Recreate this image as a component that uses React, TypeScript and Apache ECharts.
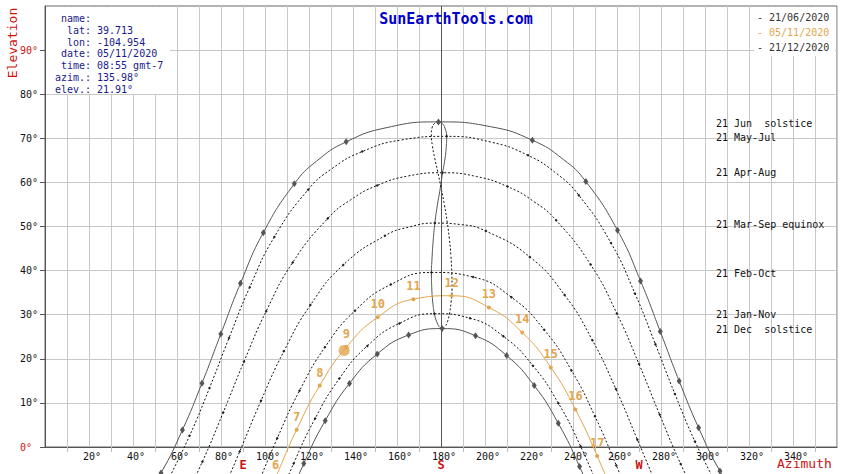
import { useEffect, useRef } from 'react';
import * as echarts from 'echarts';

const FONT = '"DejaVu Sans Mono", "Liberation Mono", monospace';
const RED = '#cc1111';
const ORANGE = '#e2a64e';
const GREY = '#555555';
const BLUE_TXT = '#1a1a8c';

// axis tick labels
const xTickLabels = [20, 40, 60, 80, 100, 120, 140, 160, 180, 200, 220, 240, 260, 280, 300, 320, 340];
const yTickLabels = [0, 10, 20, 30, 40, 50, 60, 70, 80, 90];

// sun paths [azimuth, elevation] at clock times (gmt-7); markers on full hours
const junHours = [3, 4, 5, 6, 7, 8, 9, 10, 10.5, 11, 11.5, 12, 12.5, 13, 13.5, 14, 15, 16, 17, 18, 19, 20, 21];
const junSolstice = [
  [41.7, -14.37], [52.73, -5.88], [62.46, 3.86], [71.35, 14.47], [79.92, 25.63], [88.85, 37.11],
  [99.23, 48.61], [113.33, 59.67], [123.34, 64.78], [136.9, 69.19], [155.5, 72.44], [178.84, 73.72],
  [202.49, 72.64], [221.53, 69.56], [235.57, 65.22], [245.83, 60.2],
  [260.22, 49.14], [270.7, 37.66], [279.67, 26.17], [288.24, 14.99], [297.1, 4.35], [306.78, -5.45],
  [317.73, -13.99],
];
const mayHours = [4, 5, 6, 7, 8, 9, 10, 10.5, 11, 11.5, 12, 12.5, 13, 13.5, 14, 15, 16, 17, 18, 19, 20];
const mayJul = [
  [55.85, -7.52], [65.71, 2.54], [74.78, 13.4], [83.65, 24.72], [93.07, 36.24], [104.25, 47.63],
  [119.6, 58.35], [130.27, 63.07], [144.19, 67.0], [162.0, 69.62], [182.58, 70.44], [202.71, 69.14],
  [219.56, 66.13], [232.61, 61.97], [242.65, 57.09], [257.27, 46.26],
  [268.15, 34.83], [277.45, 23.32], [286.31, 12.03], [295.44, 1.26], [305.44, -8.68],
];
const aprHours = [4, 5, 6, 7, 8, 9, 10, 10.5, 11, 11.5, 12, 12.5, 13, 13.5, 14, 15, 16, 17, 18, 19, 20];
const aprAug = [
  [61.18, -13.92], [71.51, -3.36], [81.01, 7.83], [90.42, 19.33], [100.55, 30.8], [112.59, 41.85],
  [128.49, 51.81], [138.77, 56.0], [150.97, 59.31], [165.22, 61.47], [180.72, 62.19], [196.16, 61.33],
  [210.22, 59.05], [222.26, 55.64], [232.37, 51.39], [248.02, 41.36],
  [259.94, 30.28], [270.02, 18.8], [279.42, 7.31], [288.96, -3.86], [299.33, -14.39],
];
const marHours = [5, 6, 7, 8, 9, 10, 11, 11.5, 12, 12.5, 13, 14, 15, 16, 17, 18, 19];
const marSep = [
  [78.73, -12.49], [88.5, -1.03], [98.17, 10.47], [108.56, 21.69], [120.62, 32.18], [135.57, 41.28],
  [154.53, 47.91], [165.55, 49.89], [177.22, 50.77], [189.04, 50.44], [200.42, 48.96], [220.37, 43.1],
  [236.17, 34.47], [248.81, 24.23], [259.49, 13.14], [269.26, 1.67], [278.93, -9.82],
];
const febHours = [6, 7, 8, 9, 10, 11, 12, 13, 14, 15, 16, 17, 18, 19];
const febOct = [
  [96.07, -9.35], [105.55, 1.97], [115.69, 12.76], [127.23, 22.6], [140.9, 30.9], [157.19, 36.85],
  [175.65, 39.58], [194.63, 38.54], [212.04, 33.95], [226.87, 26.6], [239.3, 17.37], [249.98, 6.96],
  [259.68, -4.17], [269.09, -15.64],
];
const janHours = [6, 7, 8, 9, 10, 11, 12, 13, 14, 15, 16, 17, 18];
const janNov = [
  [104.01, -14.67], [113.03, -3.74], [122.78, 6.45], [133.79, 15.52], [146.5, 22.92], [161.07, 28.03],
  [177.0, 30.23], [193.2, 29.2], [208.35, 25.09], [221.77, 18.45], [233.36, 9.93], [243.49, 0.11],
  [252.72, -10.59],
];
const decHours = [6, 7, 8, 9, 10, 11, 12, 13, 14, 15, 16, 17, 18];
const decSolstice = [
  [108.73, -14.37], [117.63, -3.76], [127.37, 5.97], [138.39, 14.42], [151.04, 21.11], [165.29, 25.41],
  [180.5, 26.85], [195.69, 25.21], [209.83, 20.73], [222.38, 13.92], [233.32, 5.36], [242.99, -4.44],
  [251.84, -15.09],
];
const nov5Hours = [5, 6, 7, 8, 9, 10, 11, 12, 13, 14, 15, 16, 17, 18];
const nov5Labeled = [6, 7, 8, 9, 10, 11, 12, 13, 14, 15, 16, 17];
const nov5Path = [
  [95.7, -18.29], [104.86, -6.95], [114.38, 3.91], [124.88, 13.94], [137.02, 22.66], [151.22, 29.43],
  [167.45, 33.52], [184.83, 34.3], [201.75, 31.64], [216.91, 25.97], [229.92, 18.04], [241.09, 8.52],
  [250.97, -2.02], [260.21, -13.18],
];
const sunNow = [135.98, 21.91];

// analemma at 12:00 (Dec -> Jun solid, Jun -> Dec dotted)
const analemmaFirstHalf = [
  [180.5, 26.85], [179.2, 27.3], [178.0, 28.5], [177.0, 30.23], [176.2, 33.1], [175.8, 36.1],
  [175.65, 39.58], [175.9, 42.6], [176.4, 46.5], [177.22, 50.77], [178.3, 54.7], [179.6, 58.5],
  [180.72, 62.19], [181.8, 65.3], [182.4, 68.1], [182.58, 70.44], [181.8, 72.3], [180.5, 73.4],
  [178.84, 73.72],
];
const analemmaSecondHalf = [
  [178.84, 73.72], [177.1, 73.4], [175.9, 72.3], [175.6, 70.8], [176.1, 68.3], [177.1, 65.6],
  [178.5, 62.5], [180.1, 58.6], [181.6, 54.8], [182.85, 50.9], [183.8, 47.2], [184.5, 43.4],
  [184.9, 39.4], [185.0, 35.9], [184.6, 32.9], [183.9, 30.4], [183.0, 28.5], [181.8, 27.3],
  [180.5, 26.85],
];

// texts
const infoLabels = ['name:', 'lat:', 'lon:', 'date:', 'time:', 'azim.:', 'elev.:'];
const infoValues = ['', '39.713', '-104.954', '05/11/2020', '08:55 gmt-7', '135.98°', '21.91°'];
const legendDates = ['21/06/2020', '05/11/2020', '21/12/2020'];
const legendColors = ['#333333', ORANGE, '#333333'];
const curveNames = ['21 Jun  solstice', '21 May-Jul', '21 Apr-Aug', '21 Mar-Sep equinox', '21 Feb-Oct', '21 Jan-Nov', '21 Dec  solstice'];
const curveNameY = [123.3, 137.3, 172.7, 224.3, 273.3, 314, 329];
const compass = [['E', 243], ['S', 441], ['W', 639]];

const withMarkers = (path: number[][], hours: number[]) =>
  path.map((p, i) => (Number.isInteger(hours[i]) ? p : { value: p, symbol: 'none' }));

export default function App() {
  const ref = useRef<HTMLDivElement>(null);

  useEffect(() => {
    if (!ref.current) return;
    const chart = echarts.init(ref.current, undefined, { renderer: 'svg' });

    const solid = (data: any[]) => ({
      type: 'line', data, smooth: 0.5, clip: false, silent: true,
      symbol: 'diamond', symbolSize: [5, 7],
      lineStyle: { color: GREY, width: 1 }, itemStyle: { color: GREY }, z: 3,
    });
    const dotted = (data: any[]) => ({
      type: 'line', data, smooth: 0.5, clip: false, silent: true,
      symbol: 'diamond', symbolSize: 3,
      lineStyle: { color: '#111', width: 1, type: [2, 2] }, itemStyle: { color: '#222' }, z: 3,
    });

    const graphic: any[] = [
      { type: 'rect', z: 50, shape: { x: 46, y: 7, width: 124, height: 87 }, style: { fill: '#fff' } },
      { type: 'rect', z: 50, shape: { x: 754, y: 7, width: 81, height: 49 }, style: { fill: '#fff' } },
      {
        type: 'text', z: 60, x: 456, y: 19,
        style: { text: 'SunEarthTools.com', fill: '#0000cc', font: `bold 15px ${FONT}`, textAlign: 'center', textVerticalAlign: 'middle' },
      },
      {
        type: 'text', z: 60, x: 12, y: 43, rotation: Math.PI / 2,
        style: { text: 'Elevation', fill: RED, font: `13px ${FONT}`, textAlign: 'center', textVerticalAlign: 'middle' },
      },
      {
        type: 'text', z: 60, x: 777, y: 463.5,
        style: { text: 'Azimuth', fill: RED, font: `13px ${FONT}`, textAlign: 'left', textVerticalAlign: 'middle' },
      },
    ];
    const infoY = [18.3, 30, 42.3, 53.3, 65, 77.3, 89];
    infoLabels.forEach((l, i) => {
      graphic.push({ type: 'text', z: 60, x: 91, y: infoY[i], style: { text: l, fill: BLUE_TXT, font: `10px ${FONT}`, textAlign: 'right', textVerticalAlign: 'middle' } });
      graphic.push({ type: 'text', z: 60, x: 97, y: infoY[i], style: { text: infoValues[i], fill: BLUE_TXT, font: `10px ${FONT}`, textAlign: 'left', textVerticalAlign: 'middle' } });
    });
    legendDates.forEach((d, i) => {
      graphic.push({ type: 'text', z: 60, x: 757, y: 17.7 + i * 15, style: { text: '- ' + d, fill: legendColors[i], font: `10px ${FONT}`, textAlign: 'left', textVerticalAlign: 'middle' } });
    });
    curveNames.forEach((n, i) => {
      graphic.push({ type: 'text', z: 60, x: 716, y: curveNameY[i], style: { text: n, fill: '#111', font: `10px ${FONT}`, textAlign: 'left', textVerticalAlign: 'middle' } });
    });
    compass.forEach(([c, x]) => {
      graphic.push({ type: 'text', z: 60, x: x as number, y: 465, style: { text: c as string, fill: RED, font: `bold 12px ${FONT}`, textAlign: 'center', textVerticalAlign: 'middle' } });
    });

    chart.setOption({
      animation: false,
      backgroundColor: '#ffffff',
      grid: { left: 45, right: 16, top: 6, bottom: 27, show: true, borderColor: '#666', borderWidth: 1, backgroundColor: 'transparent' },
      xAxis: {
        type: 'value', min: 0, max: 360, interval: 20,
        axisLine: { show: true, lineStyle: { color: GREY } },
        axisTick: { show: false },
        minorTick: { show: true, splitNumber: 2, length: 5, lineStyle: { color: '#bbb' } },
        splitLine: { show: true, lineStyle: { color: '#c8c8c8' } },
        minorSplitLine: { show: true, lineStyle: { color: '#c8c8c8' } },
        axisLabel: {
          customValues: xTickLabels, formatter: (v: number) => v + '°',
          color: '#111', fontSize: 10, fontFamily: FONT, margin: 4, padding: [0, 0, 0, 6],
        },
      },
      yAxis: {
        type: 'value', min: 0, max: 100, interval: 10,
        axisLine: { show: true, lineStyle: { color: GREY } },
        axisTick: { show: true, length: 5, customValues: yTickLabels, lineStyle: { color: GREY } },
        splitLine: { show: true, lineStyle: { color: '#c8c8c8' } },
        axisLabel: {
          customValues: yTickLabels,
          formatter: (v: number) => (v === 0 ? '{z|0°}' : v === 90 ? '{r|90°}' : v + '°'),
          rich: { z: { color: RED, padding: [0, 6, 0, 0], fontSize: 10, fontFamily: FONT }, r: { color: RED, fontSize: 10, fontFamily: FONT } },
          color: '#111', fontSize: 10, fontFamily: FONT, margin: 7,
        },
      },
      graphic,
      series: [
        {
          type: 'line', data: analemmaFirstHalf, smooth: 0.5, clip: false, silent: true, symbol: 'none',
          lineStyle: { color: GREY, width: 1 }, z: 2,
          markLine: {
            silent: true, symbol: ['none', 'none'], label: { show: false },
            lineStyle: { color: GREY, type: 'solid', width: 1 },
            data: [{ xAxis: 180 }],
          },
        },
        {
          type: 'line', data: analemmaSecondHalf, smooth: 0.5, clip: false, silent: true, symbol: 'none',
          lineStyle: { color: '#111', width: 1, type: [2, 2] }, z: 2,
        },
        solid(withMarkers(junSolstice, junHours)),
        dotted(withMarkers(mayJul, mayHours)),
        dotted(withMarkers(aprAug, aprHours)),
        dotted(withMarkers(marSep, marHours)),
        dotted(withMarkers(febOct, febHours)),
        dotted(withMarkers(janNov, janHours)),
        solid(withMarkers(decSolstice, decHours)),
        {
          type: 'line', smooth: 0.5, clip: false, silent: true,
          data: nov5Path.map((p, i) => ({
            value: p,
            label: { show: nov5Labeled.includes(nov5Hours[i]), formatter: String(nov5Hours[i]) },
          })),
          symbol: 'circle', symbolSize: 4,
          lineStyle: { color: ORANGE, width: 1 }, itemStyle: { color: ORANGE },
          label: { position: 'top', distance: 5, color: ORANGE, fontSize: 12, fontWeight: 'bold', fontFamily: FONT },
          z: 4,
        },
        {
          type: 'scatter', data: [sunNow], symbol: 'circle', symbolSize: 11, silent: true,
          itemStyle: { color: ORANGE }, z: 5,
        },
      ],
    });

    return () => chart.dispose();
  }, []);

  return <div ref={ref} style={{ position: 'absolute', left: 0, top: 0, width: 853, height: 474 }} />;
}
